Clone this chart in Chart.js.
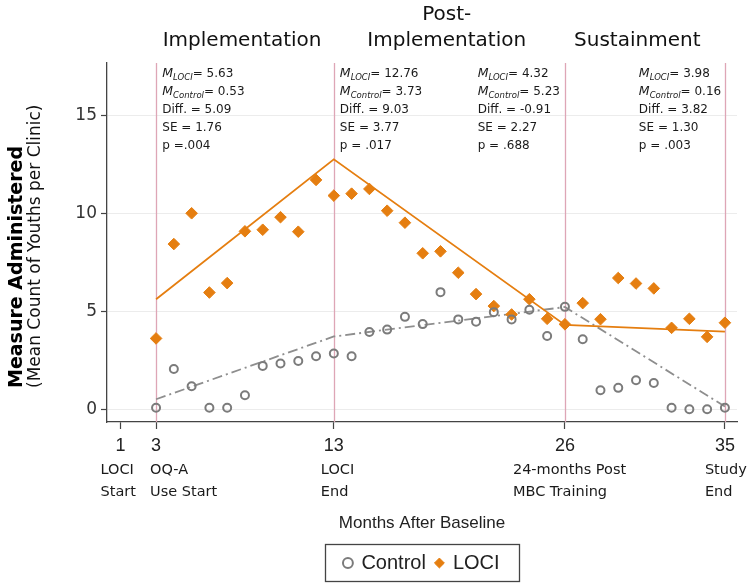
<!DOCTYPE html>
<html>
<head>
<meta charset="utf-8">
<script src="https://cdn.jsdelivr.net/npm/chart.js@4.4.1/dist/chart.umd.min.js"></script>
<style>
html,body{margin:0;padding:0;background:#ffffff;}
#wrap{width:755px;height:586px;}
</style>
</head>
<body>
<div id="wrap"><canvas id="c" width="755" height="586"></canvas></div>
<script>
// ---------- data ----------
const months = [3,4,5,6,7,8,9,10,11,12,13,14,15,16,17,18,19,20,21,22,23,24,25,26,27,28,29,30,31,32,33,34,35];
const lociValues = [3.63,8.44,10.01,5.97,6.45,9.09,9.17,9.81,9.07,11.71,10.91,11.01,11.25,10.14,9.53,7.97,8.07,6.98,5.89,5.28,4.85,5.63,4.63,4.35,5.43,4.61,6.71,6.43,6.18,4.17,4.63,3.71,4.43];
const controlValues = [0.10,2.07,1.19,0.10,0.10,0.73,2.23,2.35,2.48,2.72,2.86,2.72,3.96,4.08,4.73,4.36,5.99,4.60,4.48,4.97,4.60,5.09,3.75,5.24,3.59,0.99,1.11,1.50,1.36,0.10,0.02,0.02,0.10];

// estimated means at phase boundaries (fitted lines)
const fitMonths = [3, 13, 26, 35];
const mLoci = [5.63, 12.76, 4.32, 3.98];
const mControl = [0.53, 3.73, 5.23, 0.16];
const diffs = ["5.09", "9.03", "-0.91", "3.82"];
const ses = ["1.76", "3.77", "2.27", "1.30"];
const pTexts = ["p =.004", "p = .017", "p = .688", "p = .003"];

const xTickValues = [1, 3, 13, 26, 35];
const xTickSubLabels = [["LOCI","Start"],["OQ-A","Use Start"],["LOCI","End"],["24-months Post","MBC Training"],["Study","End"]];
const yTickValues = [0, 5, 10, 15];
const phaseBoundaries = [3, 13, 26, 35];
const phaseTitles = [["Implementation"], ["Post-","Implementation"], ["Sustainment"]];
const xTitle = "Months After Baseline";
const yTitleBold = "Measure Administered";
const yTitleNormal = "(Mean Count of Youths per Clinic)";

// ---------- style / placement ----------
const ORANGE = '#E57E10';
const GRAY_PT = '#7b7b7b';
const GRAY_LN = '#8e8e8e';
const PINK = '#dea6b6';
const phaseTitleAnchor = [7.84, 19.35, 30.07];      // month at which header is centred
const statsAnchor = [3.35, 13.34, 21.09, 30.16];    // month at which stat block starts
const subLabelDx = [-20, -6, -13, -52, -20];        // px shift of sub-label blocks

const annotations = {
  id: 'annotations',
  beforeDatasetsDraw(chart) {
    const {ctx, chartArea, scales:{x}} = chart;
    ctx.save();
    ctx.strokeStyle = PINK;
    ctx.lineWidth = 1.3;
    phaseBoundaries.forEach(m => {
      const px = Math.round(x.getPixelForValue(m)) + 0.5;
      ctx.beginPath();
      ctx.moveTo(px, chartArea.top);
      ctx.lineTo(px, chartArea.bottom);
      ctx.stroke();
    });
    ctx.restore();
  },
  afterDraw(chart) {
    const {ctx, chartArea, scales:{x}} = chart;
    ctx.save();
    // phase headers
    ctx.fillStyle = '#111';
    ctx.font = '20px "DejaVu Sans"';
    ctx.textAlign = 'center';
    ctx.textBaseline = 'alphabetic';
    phaseTitles.forEach((lines, i) => {
      const cx = x.getPixelForValue(phaseTitleAnchor[i]);
      const n = lines.length;
      lines.forEach((t, j) => {
        ctx.fillText(t, cx, 45.5 - (n - 1 - j) * 26);
      });
    });
    // stats blocks
    ctx.textAlign = 'left';
    ctx.fillStyle = '#1a1a1a';
    const base = 'px "DejaVu Sans"';
    const drawM = (sx, sy, sub, val) => {
      ctx.font = 'italic 12.5' + base;
      ctx.fillText('M', sx, sy);
      let cx = sx + ctx.measureText('M').width;
      ctx.font = 'italic 8.5' + base;
      ctx.fillText(sub, cx, sy + 3);
      cx += ctx.measureText(sub).width;
      ctx.font = '12' + base;
      ctx.fillText('= ' + val.toFixed(2), cx, sy);
    };
    statsAnchor.forEach((m, i) => {
      const sx = x.getPixelForValue(m);
      const y0 = 77, dy = 17.9;
      drawM(sx, y0, 'LOCI', mLoci[i]);
      drawM(sx, y0 + dy, 'Control', mControl[i]);
      ctx.font = '12' + base;
      ctx.fillText('Diff. = ' + diffs[i], sx, y0 + 2 * dy);
      ctx.fillText('SE = ' + ses[i], sx, y0 + 3 * dy);
      ctx.fillText(pTexts[i], sx, y0 + 4 * dy);
    });
    // x sub labels
    ctx.font = '14.5' + base;
    ctx.fillStyle = '#1a1a1a';
    xTickValues.forEach((v, i) => {
      const sx = x.getPixelForValue(v) + subLabelDx[i];
      xTickSubLabels[i].forEach((t, j) => ctx.fillText(t, sx, 473.5 + j * 22));
    });
    // y axis title (two lines)
    ctx.save();
    ctx.translate(chartArea.left - 85.5, 388);
    ctx.rotate(-Math.PI / 2);
    ctx.font = 'bold 19' + base;
    ctx.fillStyle = '#000';
    ctx.fillText(yTitleBold, 0, 0);
    ctx.restore();
    ctx.save();
    ctx.translate(chartArea.left - 67, 388);
    ctx.rotate(-Math.PI / 2);
    ctx.font = '17' + base;
    ctx.fillStyle = '#111';
    ctx.fillText(yTitleNormal, 0, 0);
    ctx.restore();
    // legend frame
    const lg = chart.legend;
    if (lg && lg.legendHitBoxes && lg.legendHitBoxes.length) {
      const hb = lg.legendHitBoxes;
      const l = hb[0].left - 19;
      const r = hb[hb.length - 1].left + hb[hb.length - 1].width + 20;
      const t = hb[0].top - 9;
      const b = hb[0].top + hb[0].height + 8;
      ctx.strokeStyle = '#444';
      ctx.lineWidth = 1.3;
      ctx.strokeRect(Math.round(l) + 0.5, Math.round(t) + 0.5, Math.round(r - l), Math.round(b - t));
    }
    ctx.restore();
  },
  afterLayout(chart) {
    // centre the legend under the plot area
    const lg = chart.legend;
    if (lg) {
      lg.left = chart.chartArea.left;
      lg.right = chart.chartArea.right;
    }
  }
};

new Chart(document.getElementById('c').getContext('2d'), {
  type: 'scatter',
  data: {
    datasets: [
      {
        type: 'scatter', label: 'Control',
        data: months.map((m, i) => ({x: m, y: controlValues[i]})),
        pointStyle: 'circle', pointRadius: 4, borderWidth: 2,
        borderColor: GRAY_PT, backgroundColor: 'rgba(0,0,0,0)'
      },
      {
        type: 'scatter', label: 'LOCI',
        data: months.map((m, i) => ({x: m, y: lociValues[i]})),
        pointStyle: 'rectRot', pointRadius: 5.8, borderWidth: 1,
        borderColor: ORANGE, backgroundColor: ORANGE
      },
      {
        type: 'line', label: 'LOCI fit',
        data: fitMonths.map((m, i) => ({x: m, y: mLoci[i]})),
        borderColor: ORANGE, borderWidth: 1.8, pointRadius: 0, fill: false, tension: 0
      },
      {
        type: 'line', label: 'Control fit',
        data: fitMonths.map((m, i) => ({x: m, y: mControl[i]})),
        borderColor: GRAY_LN, borderWidth: 1.8, borderDash: [10, 4, 2, 4],
        pointRadius: 0, fill: false, tension: 0
      }
    ]
  },
  options: {
    responsive: false,
    devicePixelRatio: 1,
    animation: false,
    events: [],
    layout: { padding: { top: 63, right: 18, bottom: 3, left: 0 } },
    plugins: {
      tooltip: { enabled: false },
      legend: {
        position: 'bottom',
        labels: {
          usePointStyle: true, boxWidth: 7, boxHeight: 7, padding: 10,
          color: '#222',
          font: { family: '"Liberation Sans", Arial, sans-serif', size: 20 },
          filter: (item) => item.datasetIndex < 2
        }
      }
    },
    scales: {
      x: {
        type: 'linear', min: 0.24, max: 35.68,
        afterBuildTicks: (s) => { s.ticks = xTickValues.map(v => ({value: v})); },
        afterFit: (s) => { s.height = 121; },
        ticks: {
          autoSkip: false, maxRotation: 0, padding: 6, color: '#222',
          font: { family: '"Liberation Sans", Arial, sans-serif', size: 18 },
          callback: (v) => String(v)
        },
        grid: { drawOnChartArea: false, drawTicks: true, tickLength: 7, tickColor: '#444', tickWidth: 1.2 },
        border: { color: '#444', width: 1.3 },
        title: {
          display: true, text: xTitle, color: '#222',
          font: { family: '"Liberation Sans", Arial, sans-serif', size: 17 },
          padding: { top: 0, bottom: 9.5 }
        }
      },
      y: {
        type: 'linear', min: -0.63, max: 17.67,
        afterBuildTicks: (s) => { s.ticks = yTickValues.map(v => ({value: v})); },
        afterFit: (s) => { s.width = 107; },
        ticks: {
          padding: 4, color: '#333',
          font: { family: '"DejaVu Sans", sans-serif', size: 17 }
        },
        grid: { color: '#ececec', lineWidth: 1, tickLength: 6, tickColor: '#444', tickWidth: 1.2 },
        border: { color: '#444', width: 1.3 }
      }
    }
  },
  plugins: [annotations]
});
</script>
</body>
</html>
